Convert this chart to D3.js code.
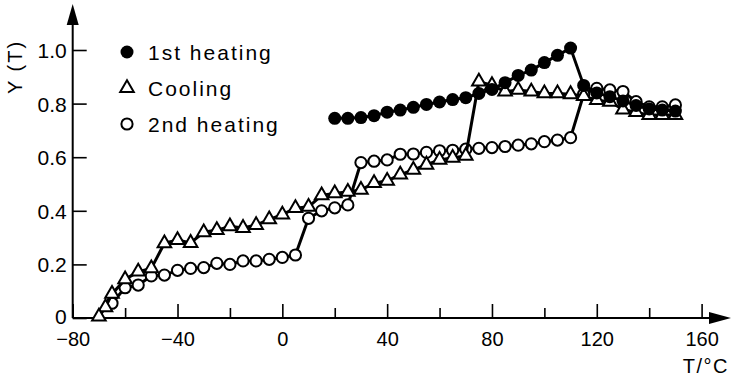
<!DOCTYPE html>
<html>
<head>
<meta charset="utf-8">
<script src="https://cdn.jsdelivr.net/npm/d3@7"></script>
<style>
  body { margin: 0; background: #fff; }
  svg { display: block; }
  text { font-family: "Liberation Sans", Arial, sans-serif; fill: #000; }
</style>
</head>
<body>
<script>
// values, T in degC
const heat1T = [20,25,30,35,40,45,50,55,60,65,70,75,80,85,90,95,100,105,110,115,120,125,130,135,140,145,150];
const heat1Y = [.745,.745,.748,.755,.768,.776,.786,.797,.806,.815,.822,.838,.853,.878,.905,.925,.953,.98,1.007,.868,.84,.826,.81,.793,.78,.776,.772];

const coolT = [150,145,140,135,130,125,120,115,110,105,100,95,90,85,80,75,70,65,60,55,50,45,40,35,30,25,20,15,10,5,0,-5,-10,-15,-20,-25,-30,-35,-40,-45,-50,-55,-60,-65,-67.5,-70];
const coolY = [.757,.757,.757,.768,.778,.807,.813,.828,.835,.838,.838,.845,.851,.845,.869,.882,.605,.598,.59,.572,.553,.535,.512,.503,.478,.471,.465,.458,.415,.41,.386,.368,.347,.336,.342,.328,.32,.28,.291,.279,.185,.173,.144,.09,.04,.005];

const heat2T = [-65,-60,-55,-50,-45,-40,-35,-30,-25,-20,-15,-10,-5,0,5,10,15,20,25,30,35,40,45,50,55,60,65,70,75,80,85,90,95,100,105,110,115,120,125,130,135,140,145,150];
const heat2Y = [.055,.113,.123,.157,.16,.178,.185,.188,.204,.2,.213,.213,.219,.226,.235,.372,.4,.411,.422,.58,.585,.59,.611,.612,.618,.624,.626,.63,.633,.636,.64,.645,.65,.658,.664,.673,.835,.857,.851,.845,.807,.788,.788,.795];

const xTicks = [-80,-60,-40,-20,0,20,40,60,80,100,120,140,160];
const yTicks = [0,.2,.4,.6,.8,1.0];
const legendNames = ["1st heating","Cooling","2nd heating"];

const W = 731, H = 376;
const svg = d3.select("body").append("svg").attr("width", W).attr("height", H);

const x = d3.scaleLinear().domain([-80,160]).range([72.7,701.6]);
const y = d3.scaleLinear().domain([0,1]).range([318,50]);

// axes
const gx = svg.append("g").attr("transform", "translate(0," + y(0) + ")")
  .call(d3.axisBottom(x).tickValues(xTicks).tickSizeInner(-14).tickSizeOuter(0)
    .tickFormat(d => d % 40 === 0 ? d3.format("d")(d) : ""));
gx.select(".domain").remove();
gx.selectAll(".tick line").attr("stroke-width", 1.6)
  .attr("y2", d => d % 40 === 0 ? -14 : -10);
gx.selectAll(".tick text").attr("font-size", 20).attr("dy", "0.71em").attr("y", 14);

const gy = svg.append("g").attr("transform", "translate(" + x(-80) + ",0)")
  .call(d3.axisLeft(y).tickValues(yTicks).tickSizeInner(-14).tickSizeOuter(0).tickPadding(6)
    .tickFormat(d => d === 0 ? "0" : d3.format(".1f")(d)));
gy.select(".domain").remove();
gy.selectAll(".tick line").attr("stroke-width", 1.6);
gy.selectAll(".tick text").attr("font-size", 21).attr("dy", d => d === 0 ? "0.28em" : "0.36em");

// axis lines with arrow heads
svg.append("line").attr("x1", x(-80)).attr("x2", 714).attr("y1", y(0)).attr("y2", y(0))
  .attr("stroke", "#000").attr("stroke-width", 2);
svg.append("line").attr("x1", x(-80)).attr("x2", x(-80)).attr("y1", y(0)).attr("y2", 20)
  .attr("stroke", "#000").attr("stroke-width", 2);
svg.append("path").attr("d", `M${x(-80)},4 L${x(-80)-6},25 L${x(-80)+6},25 Z`).attr("fill", "#000");
svg.append("path").attr("d", `M731,${y(0)} L709,${y(0)-6} L709,${y(0)+6} Z`).attr("fill", "#000");

// axis titles
svg.append("text").attr("transform", "translate(22,67) rotate(-90)")
  .attr("text-anchor", "middle").attr("font-size", 20).attr("letter-spacing", 2).text("Y (T)");
svg.append("text").attr("x", 729).attr("y", 373).attr("text-anchor", "end")
  .attr("font-size", 20).attr("letter-spacing", 1.5).text("T/°C");

const line = d3.line().x(d => x(d[0])).y(d => y(d[1]));
const tri = d3.symbol().type(d3.symbolTriangle).size(80);

function series(T, Y, kind) {
  const pts = T.map((t, i) => [t, Y[i]]);
  const g = svg.append("g");
  g.append("path").datum(pts).attr("d", line)
    .attr("fill", "none").attr("stroke", "#000").attr("stroke-width", 3).attr("stroke-linejoin", "round");
  if (kind === "tri") {
    g.selectAll("path.m").data(pts).enter().append("path").attr("class", "m")
      .attr("d", tri).attr("transform", d => `translate(${x(d[0])},${y(d[1])})`)
      .attr("fill", "#fff").attr("stroke", "#000").attr("stroke-width", 2);
  } else {
    g.selectAll("circle").data(pts).enter().append("circle")
      .attr("cx", d => x(d[0])).attr("cy", d => y(d[1]))
      .attr("r", kind === "fill" ? 6.5 : 5.6)
      .attr("fill", kind === "fill" ? "#000" : "#fff")
      .attr("stroke", "#000").attr("stroke-width", kind === "fill" ? 0 : 2);
  }
}

series(heat2T, heat2Y, "open");
series(coolT, coolY, "tri");
series(heat1T, heat1Y, "fill");

// legend
const lg = svg.append("g");
const ly = [52, 88, 124];
lg.append("circle").attr("cx", 127).attr("cy", ly[0]).attr("r", 6.5).attr("fill", "#000");
lg.append("path").attr("d", tri).attr("transform", `translate(127,${ly[1]})`)
  .attr("fill", "#fff").attr("stroke", "#000").attr("stroke-width", 2);
lg.append("circle").attr("cx", 127).attr("cy", ly[2]).attr("r", 5.6)
  .attr("fill", "#fff").attr("stroke", "#000").attr("stroke-width", 2);
lg.selectAll("text").data(legendNames).enter().append("text")
  .attr("x", 148).attr("y", (d, i) => ly[i]).attr("dy", "0.36em")
  .attr("font-size", 21).attr("letter-spacing", 2).text(d => d);
</script>
</body>
</html>
